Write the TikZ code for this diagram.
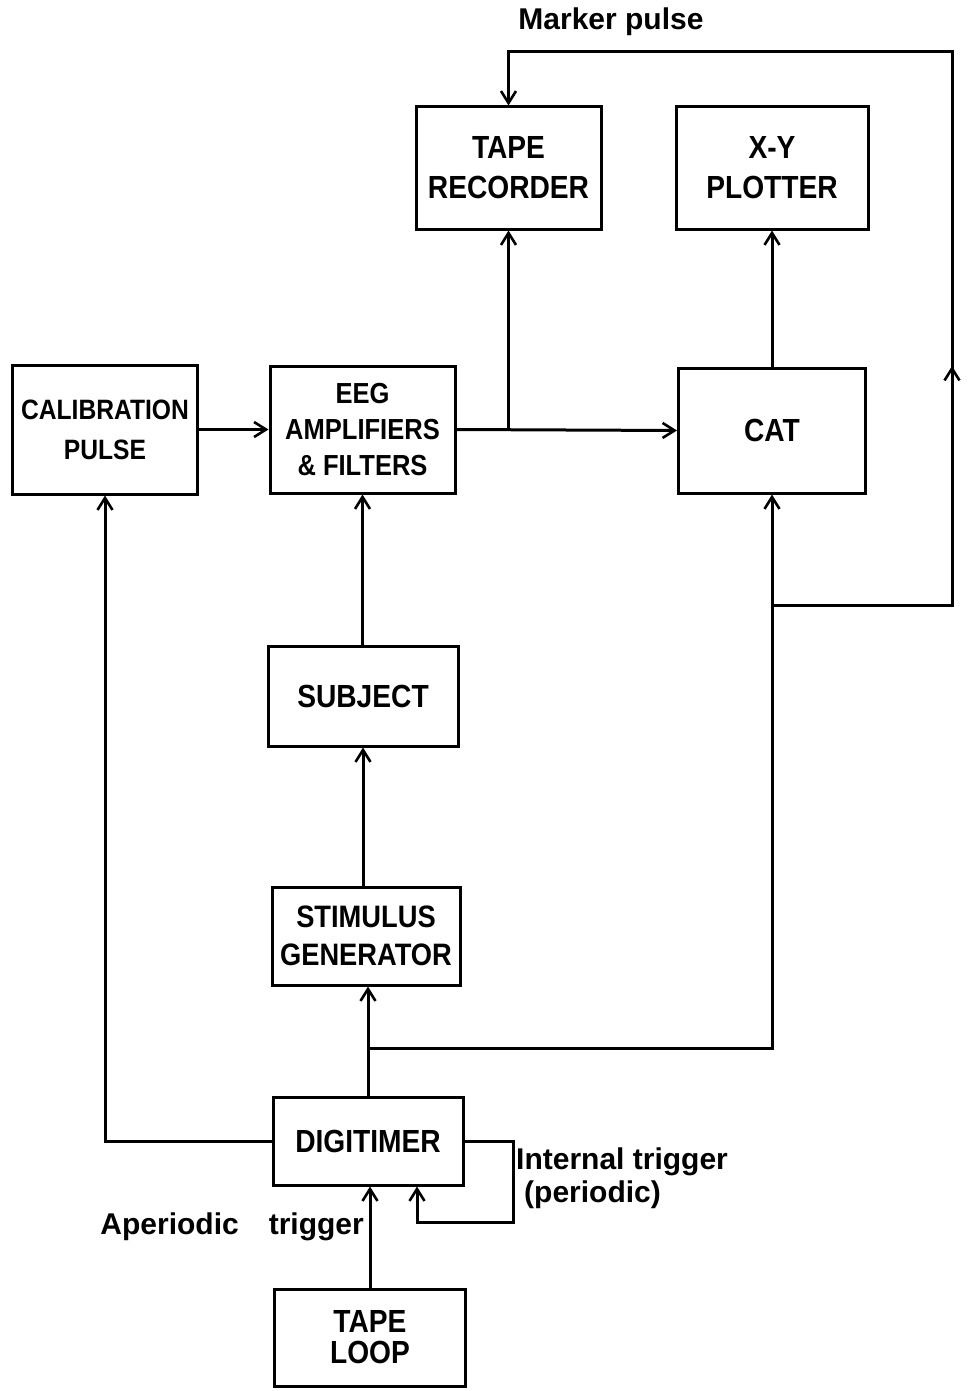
\documentclass[tikz,border=0pt]{standalone}
\usepackage{fontspec}
\setmainfont{Liberation Sans}
\newfontfamily\boxfont[FakeStretch=0.88]{Liberation Sans}
\usetikzlibrary{arrows.meta}
\begin{document}
\begin{tikzpicture}[x=1pt,y=-1pt,
  box/.style={draw,line width=3pt,rectangle,align=center,inner sep=0pt,
    font=\boxfont\bfseries\fontsize{32}{40}\selectfont},
  lbl/.style={inner sep=0pt,font=\bfseries\fontsize{30}{34}\selectfont},
  arr/.style={line width=3pt,-{Straight Barb[length=12pt,width=15pt,line width=2.6pt]}}]
\useasboundingbox (0,0) rectangle (967,1391);
% boxes
\node[box,minimum width=185pt,minimum height=122pt] (tr) at (508.5,168) {TAPE\\RECORDER};
\node[box,minimum width=192pt,minimum height=122pt] (xy) at (772,168) {X-Y\\PLOTTER};
\node[box,minimum width=185pt,minimum height=129pt,font=\boxfont\bfseries\fontsize{28}{40}\selectfont] (cal) at (105,429.5) {CALIBRATION\\PULSE};
\node[box,minimum width=185pt,minimum height=127pt,font=\boxfont\bfseries\fontsize{29}{36}\selectfont] (eeg) at (362.5,429.5) {EEG\\AMPLIFIERS\\\& FILTERS};
\node[box,minimum width=187pt,minimum height=125pt] (cat) at (772,430.5) {CAT};
\node[box,minimum width=190pt,minimum height=100pt] (subj) at (363,696) {SUBJECT};
\node[box,minimum width=188pt,minimum height=98pt,font=\boxfont\bfseries\fontsize{31}{38}\selectfont] (stim) at (366,936) {STIMULUS\\GENERATOR};
\node[box,minimum width=190pt,minimum height=88pt] (dig) at (368,1141) {DIGITIMER};
\node[box,minimum width=191pt,minimum height=97pt,font=\boxfont\bfseries\fontsize{32}{31}\selectfont] (loop) at (370,1337.5) {TAPE\\LOOP};
% labels
\node[lbl] (lm) at (611,22) {Marker pulse};
\node[lbl,anchor=west] (li) at (516,1162) {Internal trigger};
\node[lbl,anchor=west] (lp) at (524,1195) {(periodic)};
\node[lbl,anchor=east] (la) at (364,1227) {Aperiodic\hspace{30pt}trigger};
% helper coordinates
\coordinate (m1) at (952,605);
\coordinate (mm) at (952,366);
\coordinate (m2) at (952,52);
\coordinate (j) at (368,1048);
\coordinate (it1) at (513,1141);
\coordinate (it2) at (513,1222);
\coordinate (it3) at (417,1222);
% connectors
\draw[arr] (cal.east) -- (eeg.west);
\draw[arr] (eeg.east) -- (cat.west);
\draw[arr] (eeg.east -| tr.south) -- (tr.south);
\draw[arr] (cat.north) -- (xy.south);
\draw[arr] (subj.north -| eeg.south) -- (eeg.south);
\draw[arr] (stim.north -| subj.south) -- (subj.south);
\draw[arr] (dig.north) -- (dig.north |- stim.south);
\draw[arr] (j) -- (j -| cat.south) -- (cat.south);
\draw[arr] (dig.west) -- (dig.west -| cal.south) -- (cal.south);
\draw[arr] (dig.east) -- (it1) -- (it2) -- (it3) -- (it3 |- dig.south);
\draw[arr] (loop.north) -- (loop.north |- dig.south);
\draw[arr] (m1 -| cat.south) -- (m1) -- (m2) -- (m2 -| tr.north) -- (tr.north);
\draw[arr] (m1) -- (mm);
\end{tikzpicture}
\end{document}
